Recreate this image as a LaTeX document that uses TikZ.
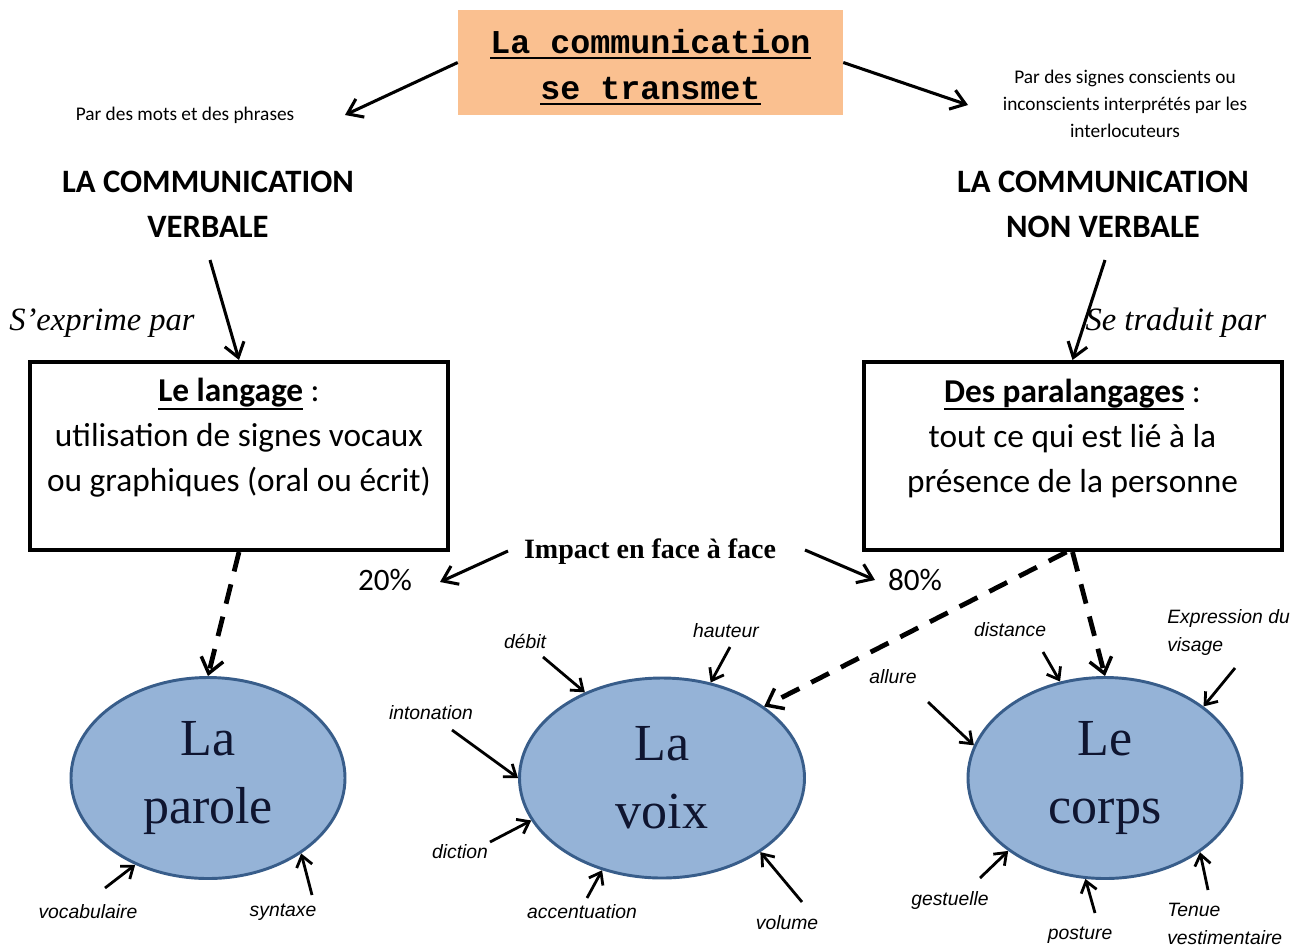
\documentclass[tikz,border=0pt]{standalone}
\usepackage{fontspec}
\setmainfont{Carlito}
\newfontfamily\serifit{Liberation Serif}
\newfontfamily\arialf{Liberation Sans}
\newfontfamily\monof{Liberation Mono}
\usetikzlibrary{arrows.meta,shapes.geometric,calc}
\definecolor{peach}{HTML}{FAC090}
\definecolor{elfill}{HTML}{95B3D7}
\definecolor{eldraw}{HTML}{385D8A}
\definecolor{eltext}{HTML}{0F1530}
\newcommand\thickul[2]{\leavevmode\vtop{\hbox{#2}\kern#1\hrule height 1.6pt}}
\begin{document}
\begin{tikzpicture}[x=0.75pt,y=-0.75pt,
 arr/.style={line width=2.3pt,-{Straight Barb[length=10.5pt,width=15pt]}},
 sarr/.style={line width=2.1pt,-{Straight Barb[length=8pt,width=12pt]}},
 dasharr/.style={line width=3.6pt,dash pattern=on 15pt off 10pt,-{Straight Barb[length=11pt,width=17pt,line width=2.6pt]}},
 small/.style={font=\arialf\itshape\fontsize{14.5}{21}\selectfont, inner sep=0pt},
 smalltxt/.style={font=\fontsize{14.5}{20}\selectfont, align=center, inner sep=0pt},
 heading/.style={font=\bfseries\fontsize{24.5}{33.75}\selectfont, align=center, inner sep=0pt},
 italabel/.style={font=\serifit\itshape\fontsize{24.4}{28}\selectfont, inner sep=0pt},
 framebox/.style={draw, line width=3pt, minimum width=313.5pt, minimum height=141pt, inner sep=0pt},
 boxtxt/.style={font=\fontsize{25}{33.75}\selectfont, align=center, inner sep=0pt},
 pct/.style={font=\fontsize{23.4}{26}\selectfont, inner sep=0pt},
 titlebox/.style={fill=peach, minimum width=288.75pt, minimum height=78.75pt, inner sep=0pt},
 titletxt/.style={align=center, font=\monof\bfseries\fontsize{25}{34.5}\selectfont, inner sep=0pt},
 ell/.style={ellipse, draw=eldraw, fill=elfill, line width=2.2pt, minimum width=205.5pt, minimum height=150.75pt, font=\serifit\fontsize{39}{51}\selectfont, align=center, text=eltext, inner sep=0pt}
]
\fill[white] (0,0) rectangle (1309,947);
\useasboundingbox (0,0) rectangle (1309,947);

% title
\node[titlebox] (title) at (650.5,62.5) {};
\node[titletxt] (titlet) at (650.5,67) {\thickul{2.5pt}{La communication}\\\thickul{2.5pt}{se transmet}};

\node[smalltxt] (mots) at (185,115) {Par des mots et des phrases};
\node[smalltxt] (signes) at (1125,104) {Par des signes conscients ou\\inconscients interprétés par les\\interlocuteurs};

\coordinate (tipA) at (345,115);
\coordinate (tipB) at (968,105);
\draw[arr] (title.west) -- (tipA);
\draw[arr] (title.east) -- (tipB);

\node[heading] (verb) at (208,204.5) {LA COMMUNICATION\\VERBALE};
\node[heading] (nverb) at (1103,204.5) {LA COMMUNICATION\\NON VERBALE};

\node[italabel] (expr) at (102,323) {S’exprime par};
\node[italabel] (trad) at (1176,323) {Se traduit par};

\node[framebox] (lang) at (239,456) {};
\node[boxtxt] (langt) at (239,438) {\thickul{0.3pt}{\bfseries Le langage} :\\utilisation de signes vocaux\\ou graphiques (oral ou écrit)};
\node[framebox] (para) at (1072.5,456) {};
\node[boxtxt] (parat) at (1072.5,438) {\thickul{0.3pt}{\bfseries Des paralangages} :\\tout ce qui est lié à la\\présence de la personne};

\coordinate (tailC) at (210,260);
\coordinate (tailD) at (1105,260);
\draw[arr] (tailC) -- (lang.north);
\draw[arr] (tailD) -- (para.north);

\node[font=\serifit\bfseries\fontsize{21}{24}\selectfont, inner sep=0pt] (impact) at (650,552) {Impact en face à face};
\node[pct] (p20) at (385,580) {20\%};
\node[pct] (p80) at (915,580) {80\%};
\coordinate (tailE) at (508,551);
\coordinate (tipE) at (440,582);
\coordinate (tailF) at (805,550);
\coordinate (tipF) at (875,580);
\draw[arr] (tailE) -- (tipE);
\draw[arr] (tailF) -- (tipF);

% ellipses
\node[ell] (parole) at (208,778) {La\\parole};
\node[ell, minimum width=213.75pt, minimum height=150pt] (voix) at (662,778) {La\\voix};
\node[ell] (corps) at (1105,778) {Le\\corps};

% dashed
\draw[dasharr] (lang.south) -- (parole.90);
\draw[dasharr] (para.south) -- (corps.90);
\draw[dasharr] ($(para.south)+(-6,0)$) -- (voix.35);

% small labels
\node[small] (vocab) at (88,912) {vocabulaire};
\node[small] (synt) at (283,912) {syntaxe};
\node[small] (debit) at (525,641) {débit};
\node[small] (haut) at (726,631) {hauteur};
\node[small] (inton) at (431,713) {intonation};
\node[small] (dict) at (460,852) {diction};
\node[small] (accent) at (582,912) {accentuation};
\node[small] (vol) at (787,923) {volume};
\node[small] (dist) at (1010,630) {distance};
\node[small, align=left, anchor=west] (exprv) at (1167,632) {Expression du\\visage};
\node[small] (allure) at (893,677) {allure};
\node[small] (gest) at (950,900) {gestuelle};
\node[small] (post) at (1080,935) {posture};
\node[small, align=left, anchor=west] (tenue) at (1167,924) {Tenue\\vestimentaire};

\coordinate (tvocab) at (105,888);
\coordinate (tsynt) at (312,895);
\coordinate (tdebit) at (543,657);
\coordinate (thaut) at (730,647);
\coordinate (tinton) at (452,730);
\coordinate (tdict) at (490,842);
\coordinate (taccent) at (587,898);
\coordinate (tvol) at (802,902);
\coordinate (tdist) at (1043,652);
\coordinate (texprv) at (1235,668);
\coordinate (tallure) at (928,702);
\coordinate (tgest) at (980,878);
\coordinate (tpost) at (1095,913);
\coordinate (ttenue) at (1208,890);

\draw[sarr] (tvocab) -- (parole.230);
\draw[sarr] (tsynt) -- (parole.321);
\draw[sarr] (tdebit) -- (voix.132);
\draw[sarr] (thaut) -- (voix.63);
\draw[sarr] (tinton) -- (voix.180);
\draw[sarr] (tdict) -- (voix.198);
\draw[sarr] (taccent) -- (voix.237);
\draw[sarr] (tvol) -- (voix.323);
\draw[sarr] (tdist) -- (corps.115);
\draw[sarr] (texprv) -- (corps.36);
\draw[sarr] (tallure) -- (corps.166);
\draw[sarr] (tgest) -- (corps.217);
\draw[sarr] (tpost) -- (corps.259);
\draw[sarr] (ttenue) -- (corps.322);
\end{tikzpicture}
\end{document}
